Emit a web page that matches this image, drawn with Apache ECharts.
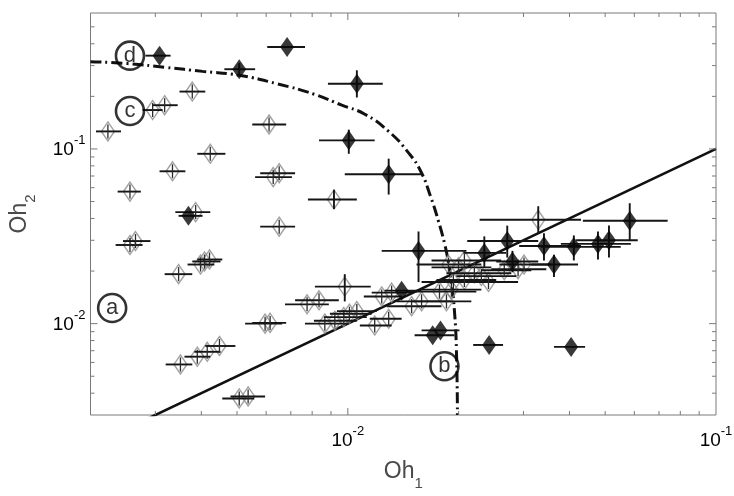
<!DOCTYPE html>
<html>
<head>
<meta charset="utf-8">
<title>Oh1 - Oh2</title>
<script src="https://cdn.jsdelivr.net/npm/echarts@6/dist/echarts.min.js"></script>
<style>
  html, body { margin: 0; padding: 0; background: #fff; }
  #chart { width: 734px; height: 496px; }
</style>
</head>
<body>
<div id="chart"></div>
<script>
// axis ranges (log-log)
const X_MIN = 0.002, X_MAX = 0.1;
const Y_MIN = 0.003, Y_MAX = 0.6;

// tick positions and labels
const xMinorTicks = [0.003, 0.004, 0.005, 0.006, 0.007, 0.008, 0.009,
  0.02, 0.03, 0.04, 0.05, 0.06, 0.07, 0.08, 0.09];
const xMajorTicks = [0.01];
const yMinorTicks = [0.004, 0.005, 0.006, 0.007, 0.008, 0.009,
  0.02, 0.03, 0.04, 0.05, 0.06, 0.07, 0.08, 0.09, 0.2, 0.3, 0.4, 0.5];
const yMajorTicks = [0.01, 0.1];
const xLabelValues = [0.01, 0.1];
const xLabelExps = ['-2', '-1'];
const yLabelValues = [0.01, 0.1];
const yLabelExps = ['-2', '-1'];

// filled (black) diamonds
const filledOh1 = [0.00308, 0.00507, 0.00684, 0.01058, 0.01006, 0.01291, 0.00369, 0.01556,
  0.0140, 0.0170, 0.01785, 0.0242, 0.0404, 0.02348, 0.0271, 0.0280, 0.0341, 0.0363,
  0.0411, 0.0478, 0.0512, 0.0583];
const filledOh2 = [0.342, 0.286, 0.383, 0.236, 0.112, 0.0717, 0.0414, 0.0261,
  0.01545, 0.00858, 0.00915, 0.00755, 0.00736, 0.0254, 0.0297, 0.0227, 0.0278, 0.0218,
  0.0275, 0.0286, 0.0300, 0.0388];
const filledOh1Lo = [0.00282, 0.00462, 0.00604, 0.00883, 0.00835, 0.00981, 0.00347, 0.01236,
  0.01259, 0.01518, 0.01586, 0.0219, 0.0363, 0.0206, 0.0211, 0.0253, 0.0292, 0.0315,
  0.0335, 0.0379, 0.0417, 0.0435];
const filledOh1Hi = [0.00330, 0.00560, 0.00765, 0.01244, 0.01183, 0.01596, 0.00403, 0.0210,
  0.01586, 0.01948, 0.0201, 0.0264, 0.0441, 0.0269, 0.0329, 0.0329, 0.0430, 0.0422,
  0.0551, 0.0587, 0.0613, 0.0739];
const filledOh2Lo = [null, 0.262, null, 0.197, 0.0938, 0.0548, null, 0.0173,
  null, null, null, null, null, 0.0210, 0.0239, 0.0197, 0.0230, 0.0185,
  0.0230, 0.0233, 0.0239, 0.0297];
const filledOh2Hi = [null, 0.310, null, 0.282, 0.129, 0.088, null, 0.0337,
  null, null, null, null, null, 0.0316, 0.0364, 0.0261, 0.0329, 0.0248,
  0.0320, 0.0337, 0.0364, 0.0489];

// hollow (grey) diamonds
const hollowOh1 = [0.00223, 0.00295, 0.00318, 0.00378, 0.00611, 0.00423, 0.00334, 0.00627,
  0.00651, 0.00256, 0.00917, 0.00386, 0.00651, 0.00256, 0.00265, 0.00398, 0.00408, 0.00421,
  0.00347, 0.00596, 0.00615, 0.00351, 0.00390, 0.00415, 0.00448, 0.00507, 0.00536, 0.00775,
  0.00835, 0.00981, 0.00866, 0.00922, 0.00975, 0.0101, 0.01058, 0.01183, 0.01291, 0.01236,
  0.01315, 0.0149, 0.01586, 0.01774, 0.01911, 0.01853, 0.01876, 0.01997, 0.01935, 0.02073,
  0.02206, 0.02305, 0.02073, 0.0266, 0.0290, 0.0301, 0.0329, 0.0241];
const hollowOh2 = [0.126, 0.167, 0.178, 0.213, 0.138, 0.0938, 0.0745, 0.0690,
  0.0726, 0.0570, 0.0514, 0.0435, 0.0359, 0.0282, 0.0297, 0.0218, 0.0227, 0.0233,
  0.0192, 0.0100, 0.0101, 0.00584, 0.00647, 0.00690, 0.00745, 0.00373, 0.00383, 0.0129,
  0.0136, 0.0163, 0.0100, 0.0104, 0.0109, 0.0114, 0.0118, 0.00975, 0.01066, 0.01431,
  0.01505, 0.01259, 0.01342, 0.01525, 0.01565, 0.01342, 0.0218, 0.0210, 0.0173, 0.01778,
  0.01945, 0.01872, 0.0230, 0.0202, 0.0205, 0.0218, 0.0393, 0.0173];
const hollowOh1Lo = [0.00207, 0.00277, 0.00295, 0.00349, 0.00550, 0.00390, 0.00308, 0.00560,
  0.00578, 0.00237, 0.00779, 0.00340, 0.00578, 0.00234, 0.00245, 0.00367, 0.00378, 0.00390,
  0.00318, 0.00526, 0.00550, 0.00320, 0.00360, 0.00383, 0.00410, 0.00456, 0.00480, 0.00675,
  0.00719, 0.00814, 0.00765, 0.00809, 0.00861, 0.00894, 0.00934, 0.01078, 0.01147, 0.01105,
  0.01161, 0.01275, 0.01357, 0.01444, 0.01586, 0.0149, 0.01537, 0.01688, 0.01586, 0.01741,
  0.01853, 0.01972, 0.01688, 0.02305, 0.02453, 0.0258, 0.0228, 0.0210];
const hollowOh1Hi = [0.00242, 0.00314, 0.00345, 0.00410, 0.00680, 0.00465, 0.00362, 0.00705,
  0.00719, 0.00274, 0.01058, 0.00423, 0.00719, 0.00277, 0.00291, 0.00434, 0.00451, 0.00456,
  0.00378, 0.00663, 0.00680, 0.00378, 0.00423, 0.00451, 0.00495, 0.00557, 0.00596, 0.00888,
  0.00945, 0.01154, 0.00994, 0.01058, 0.01126, 0.01161, 0.01198, 0.01315, 0.0140, 0.0140,
  0.0149, 0.01796, 0.01911, 0.02234, 0.02305, 0.02165, 0.02305, 0.02453, 0.0261, 0.0253,
  0.0278, 0.02866, 0.0261, 0.0315, 0.0346, 0.0357, 0.0430, 0.0290];
const hollowOh2Lo = [null, null, null, null, null, null, null, null, null, null, 0.0453, null,
  null, null, null, null, null, null, null, null, null, null, null, null, null, null, null,
  null, null, 0.0134, null, null, null, null, null, null, null, null, null, null, null, null,
  null, null, null, null, null, null, null, null, null, null, null, null, 0.0329, null];
const hollowOh2Hi = [null, null, null, null, null, null, null, null, null, null, 0.0584, null,
  null, null, null, null, null, null, null, null, null, null, null, null, null, null, null,
  null, null, 0.0192, null, null, null, null, null, null, null, null, null, null, null, null,
  null, null, null, null, null, null, null, null, null, null, null, null, 0.0470, null];

// dash-dot boundary curve
const curveOh1 = [0.002, 0.00252, 0.00320, 0.00403, 0.00507, 0.00643, 0.00814, 0.00963,
  0.01112, 0.01291, 0.01462, 0.01580, 0.01680, 0.01760, 0.01830, 0.01876, 0.01911, 0.01948,
  0.01972, 0.01985];
const curveOh2 = [0.316, 0.308, 0.293, 0.278, 0.264, 0.236, 0.205, 0.178,
  0.158, 0.126, 0.0950, 0.0740, 0.0530, 0.0390, 0.0289, 0.0224, 0.0173, 0.0118,
  0.00708, 0.003];

// solid line Oh2 = Oh1
const lineOh1 = [0.002, 0.1];
const lineOh2 = [0.002, 0.1];

// circled region letters
const regionNames = ['a', 'b', 'c', 'd'];
const regionOh1 = [0.00229, 0.0183, 0.00256, 0.00256];
const regionOh2 = [0.0123, 0.0057, 0.165, 0.342];

const FONT = '"Liberation Sans", Arial, sans-serif';
const TEXT_COLOR = '#4a4a4a';
const FRAME_COLOR = '#7a7a7a';

function zip(a, b) {
  return a.map((v, i) => [v, b[i]]);
}

function barRows(x, y, xlo, xhi, ylo, yhi) {
  return x.map((v, i) => [v, y[i], xlo[i], xhi[i], ylo[i], yhi[i]]);
}

function makeBarRenderer(withCross) {
  return function (params, api) {
    const x = api.value(0), y = api.value(1);
    const c = api.coord([x, y]);
    const style = { stroke: '#151515', lineWidth: 1.9 };
    const children = [];
    const xlo = api.value(2), xhi = api.value(3);
    if (xlo > 0 && xhi > 0) {
      const a = api.coord([xlo, y]), b = api.coord([xhi, y]);
      children.push({ type: 'line', shape: { x1: a[0], y1: c[1], x2: b[0], y2: c[1] }, style: style });
    }
    const ylo = api.value(4), yhi = api.value(5);
    if (ylo > 0 && yhi > 0) {
      const a = api.coord([x, ylo]), b = api.coord([x, yhi]);
      children.push({ type: 'line', shape: { x1: c[0], y1: a[1], x2: c[0], y2: b[1] }, style: style });
    } else if (withCross) {
      // small vertical stroke inside hollow marker
      children.push({ type: 'line', shape: { x1: c[0], y1: c[1] - 7, x2: c[0], y2: c[1] + 7 },
        style: { stroke: '#2a2a2a', lineWidth: 1.3 } });
    }
    return { type: 'group', children: children };
  };
}

const chartDom = document.getElementById('chart');
const chart = echarts.init(chartDom, null, { renderer: 'canvas' });

const supRich = {
  b: { fontSize: 19, lineHeight: 32, fontFamily: FONT, color: TEXT_COLOR },
  s: { fontSize: 13, verticalAlign: 'top', fontFamily: FONT, color: TEXT_COLOR }
};

function tickRenderer(isX) {
  return function (params, api) {
    const v = isX ? api.value(0) : api.value(1);
    const len = api.value(2) ? 7 : 4;
    const children = [];
    const st = { stroke: FRAME_COLOR, lineWidth: 1 };
    if (isX) {
      const b = api.coord([v, Y_MIN]), t = api.coord([v, Y_MAX]);
      children.push({ type: 'line', shape: { x1: b[0], y1: b[1], x2: b[0], y2: b[1] - len }, style: st });
      children.push({ type: 'line', shape: { x1: t[0], y1: t[1], x2: t[0], y2: t[1] + len }, style: st });
    } else {
      const l = api.coord([X_MIN, v]), r = api.coord([X_MAX, v]);
      children.push({ type: 'line', shape: { x1: l[0], y1: l[1], x2: l[0] + len, y2: l[1] }, style: st });
      children.push({ type: 'line', shape: { x1: r[0], y1: r[1], x2: r[0] - len, y2: r[1] }, style: st });
    }
    return { type: 'group', children: children };
  };
}

function labelRenderer(isX) {
  return function (params, api) {
    const exps = isX ? xLabelExps : yLabelExps;
    const p = api.coord([api.value(0), api.value(1)]);
    const txt = '{b|10}{s|' + exps[params.dataIndex] + '}';
    if (isX) {
      return { type: 'text', x: p[0], y: p[1] + 10,
        style: { text: txt, rich: supRich, align: 'center', verticalAlign: 'top' } };
    }
    return { type: 'text', x: p[0] - 5, y: p[1] + 1,
      style: { text: txt, rich: supRich, align: 'right', verticalAlign: 'middle' } };
  };
}

const option = {
  animation: false,
  backgroundColor: '#fff',
  grid: {
    left: 88, right: 18, top: 13, bottom: 68,
    show: true, borderColor: FRAME_COLOR, borderWidth: 1, backgroundColor: '#fff'
  },
  xAxis: {
    type: 'log', logBase: 10, min: X_MIN, max: X_MAX,
    axisLine: { show: false }, axisTick: { show: false },
    axisLabel: { show: false }, splitLine: { show: false },
    name: '{a|Oh}{s|1}', nameLocation: 'middle', nameGap: 38,
    nameTextStyle: {
      rich: {
        a: { fontSize: 23, lineHeight: 38, fontFamily: FONT, color: TEXT_COLOR },
        s: { fontSize: 15, verticalAlign: 'bottom', fontFamily: FONT, color: TEXT_COLOR }
      }
    }
  },
  yAxis: {
    type: 'log', logBase: 10, min: Y_MIN, max: Y_MAX,
    axisLine: { show: false }, axisTick: { show: false },
    axisLabel: { show: false }, splitLine: { show: false },
    name: '{a|Oh}{s|2}', nameLocation: 'middle', nameGap: 52, nameRotate: 90,
    nameTextStyle: {
      rich: {
        a: { fontSize: 23, lineHeight: 38, fontFamily: FONT, color: TEXT_COLOR },
        s: { fontSize: 15, verticalAlign: 'bottom', fontFamily: FONT, color: TEXT_COLOR }
      }
    }
  },
  series: [
    {
      name: 'Oh2 = Oh1', type: 'line', data: zip(lineOh1, lineOh2),
      showSymbol: false, clip: true, silent: true, z: 2,
      lineStyle: { color: '#111', width: 2.6 }
    },
    {
      name: 'boundary', type: 'line', data: zip(curveOh1, curveOh2),
      showSymbol: false, smooth: 0.5, clip: true, silent: true, z: 2,
      lineStyle: { color: '#111', width: 3, type: [11, 4, 2, 4] }
    },
    {
      name: 'hollow', type: 'scatter', data: zip(hollowOh1, hollowOh2),
      symbol: 'diamond', symbolSize: [13, 19], z: 3,
      itemStyle: { color: 'rgba(255,255,255,0)', borderColor: '#8c8c8c', borderWidth: 1.5 }
    },
    {
      name: 'hollow bars', type: 'custom', z: 4,
      data: barRows(hollowOh1, hollowOh2, hollowOh1Lo, hollowOh1Hi, hollowOh2Lo, hollowOh2Hi),
      encode: { x: 0, y: 1 }, renderItem: makeBarRenderer(true)
    },
    {
      name: 'filled bars', type: 'custom', z: 5,
      data: barRows(filledOh1, filledOh2, filledOh1Lo, filledOh1Hi, filledOh2Lo, filledOh2Hi),
      encode: { x: 0, y: 1 }, renderItem: makeBarRenderer(false)
    },
    {
      name: 'filled', type: 'scatter', data: zip(filledOh1, filledOh2),
      symbol: 'diamond', symbolSize: [14, 20], z: 6,
      itemStyle: { color: '#080808' }
    },
    {
      name: 'regions', type: 'scatter', data: zip(regionOh1, regionOh2),
      symbol: 'circle', symbolSize: 28, z: 7,
      itemStyle: { color: 'rgba(255,255,255,0)', borderColor: '#000', borderWidth: 2.6 },
      label: {
        show: true, position: 'inside', formatter: p => regionNames[p.dataIndex],
        fontSize: 22, fontFamily: FONT, color: '#000'
      }
    },
    {
      name: 'x ticks', type: 'custom', z: 8, silent: true,
      data: xMinorTicks.map(v => [v, Y_MIN, 0]).concat(xMajorTicks.map(v => [v, Y_MIN, 1])),
      encode: { x: 0, y: 1 }, renderItem: tickRenderer(true)
    },
    {
      name: 'y ticks', type: 'custom', z: 8, silent: true,
      data: yMinorTicks.map(v => [X_MIN, v, 0]).concat(yMajorTicks.map(v => [X_MIN, v, 1])),
      encode: { x: 0, y: 1 }, renderItem: tickRenderer(false)
    },
    {
      name: 'x labels', type: 'custom', z: 8, silent: true,
      data: xLabelValues.map(v => [v, Y_MIN]),
      encode: { x: 0, y: 1 }, renderItem: labelRenderer(true)
    },
    {
      name: 'y labels', type: 'custom', z: 8, silent: true,
      data: yLabelValues.map(v => [X_MIN, v]),
      encode: { x: 0, y: 1 }, renderItem: labelRenderer(false)
    }
  ]
};

chart.setOption(option);
</script>
</body>
</html>
